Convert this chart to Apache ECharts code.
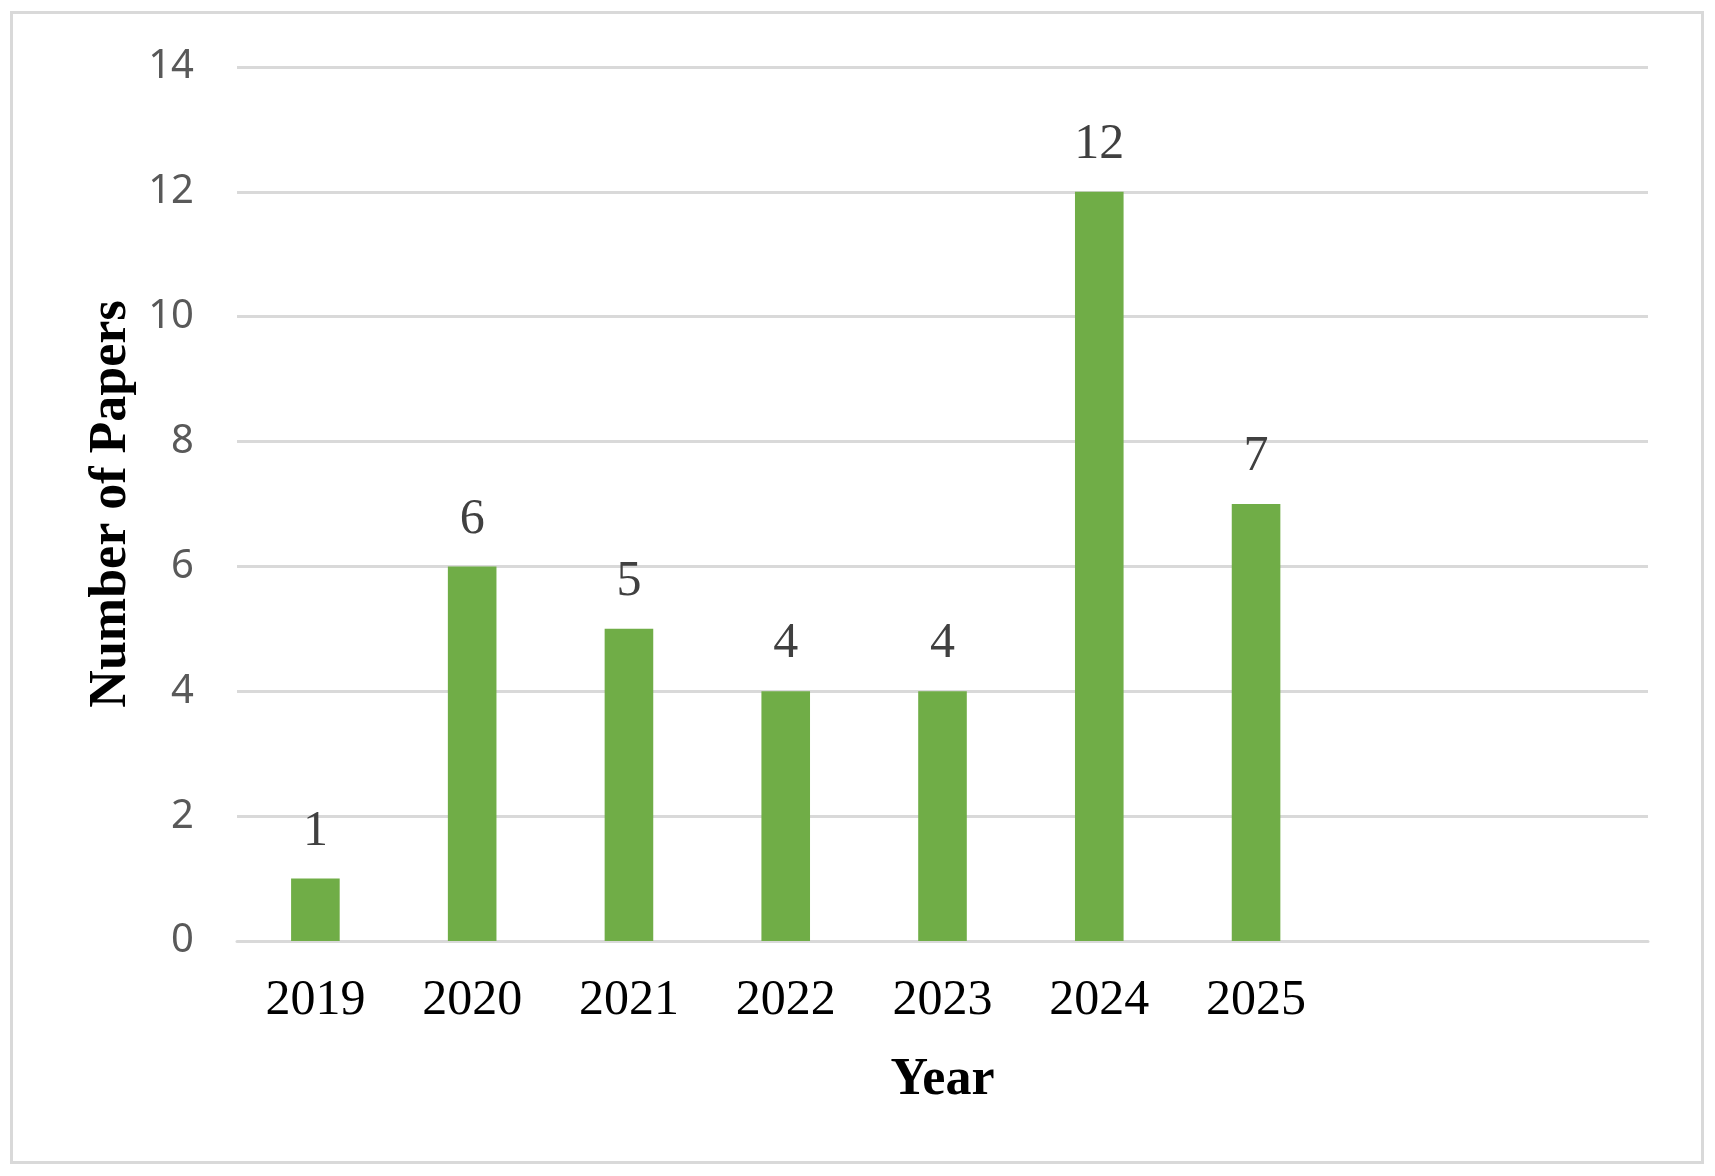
<!DOCTYPE html>
<html>
<head>
<meta charset="utf-8">
<title>Number of Papers by Year</title>
<script src="https://cdn.jsdelivr.net/npm/echarts@6/dist/echarts.min.js"></script>
<style>
  html, body { margin: 0; padding: 0; background: #fff; }
  #chart { width: 1715px; height: 1176px; }
</style>
</head>
<body>
<div id="chart"></div>
<script>
// categories: the last two slots are empty in the original chart
var years = ['2019', '2020', '2021', '2022', '2023', '2024', '2025', '', ''];
var papers = [1, 6, 5, 4, 4, 12, 7, null, null];
var yTicks = [0, 2, 4, 6, 8, 10, 12, 14];

var serif = '"Liberation Serif", "Times New Roman", serif';

var chart = echarts.init(document.getElementById('chart'));

chart.setOption({
  backgroundColor: '#fff',
  animation: false,
  // outer frame
  graphic: [{
    type: 'rect',
    shape: { x: 11.5, y: 12.5, width: 1691, height: 1150 },
    style: { fill: 'none', stroke: '#d9d9d9', lineWidth: 3 },
    silent: true
  }],
  grid: {
    left: 237,
    right: 67,
    top: 67,
    bottom: 235
  },
  xAxis: {
    type: 'category',
    data: years,
    name: 'Year',
    nameLocation: 'middle',
    nameGap: 114,
    nameTextStyle: {
      fontFamily: serif,
      fontWeight: 'bold',
      fontSize: 52,
      color: '#000'
    },
    axisLine: { show: true, lineStyle: { color: '#d9d9d9', width: 3 } },
    axisTick: { show: false },
    axisLabel: {
      interval: 0,
      margin: 35,
      fontFamily: serif,
      fontSize: 50,
      color: '#000'
    }
  },
  yAxis: {
    type: 'value',
    min: yTicks[0],
    max: yTicks[yTicks.length - 1],
    interval: 2,
    name: 'Number of Papers',
    nameLocation: 'middle',
    nameGap: 99,
    nameRotate: 90,
    nameTextStyle: {
      fontFamily: serif,
      fontWeight: 'bold',
      fontSize: 52,
      color: '#000'
    },
    axisLine: { show: false },
    axisTick: { show: false },
    axisLabel: {
      margin: 43,
      fontFamily: '"Noto Sans", sans-serif',
      fontSize: 40,
      color: '#595959'
    },
    splitLine: { lineStyle: { color: '#d9d9d9', width: 3 } }
  },
  series: [{
    type: 'bar',
    data: papers,
    barWidth: '31%',
    itemStyle: { color: '#70ad47' },
    label: {
      show: true,
      position: 'top',
      distance: 22,
      fontFamily: serif,
      fontSize: 50,
      color: '#404040'
    }
  }]
});
</script>
</body>
</html>
